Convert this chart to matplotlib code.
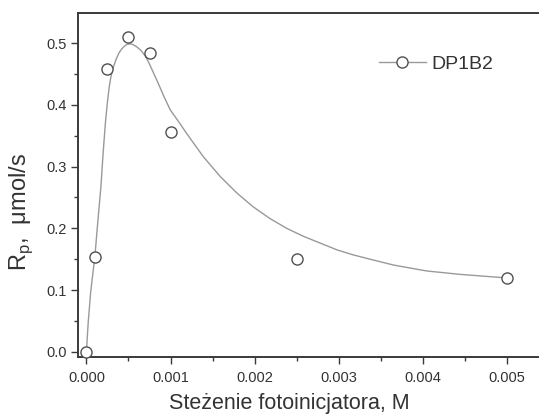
import matplotlib
matplotlib.use("Agg")
import matplotlib.pyplot as plt
from matplotlib.ticker import MultipleLocator
from matplotlib.lines import Line2D

plt.rcParams['font.family'] = ['Liberation Sans', 'DejaVu Sans']

# measured points
conc = [0.0, 0.0001, 0.00025, 0.0005, 0.00075, 0.001, 0.0025, 0.005]
rate = [0.0, 0.154, 0.459, 0.510, 0.484, 0.356, 0.150, 0.120]

# fitted curve
fit_x = [0.0, 0.00002, 0.00005, 0.0001, 0.00014, 0.000172, 0.0002, 0.000227,
         0.00025, 0.00027, 0.00029, 0.00031, 0.00035, 0.000386, 0.00042,
         0.00045, 0.00048, 0.000516, 0.00055, 0.0006, 0.00065, 0.000695,
         0.00074, 0.00078, 0.00085, 0.00092, 0.000996, 0.0011, 0.00119,
         0.0013, 0.00139, 0.00159, 0.00179, 0.00198, 0.00218, 0.00238,
         0.00258, 0.00278, 0.00298, 0.00317, 0.00337, 0.00365, 0.00404,
         0.00444, 0.00491, 0.005]
fit_y = [0.0, 0.045, 0.096, 0.154, 0.218, 0.267, 0.325, 0.373,
         0.405, 0.428, 0.445, 0.457, 0.473, 0.484, 0.491,
         0.495, 0.498, 0.499, 0.498, 0.494, 0.488, 0.480,
         0.469, 0.457, 0.436, 0.414, 0.392, 0.372, 0.354,
         0.333, 0.316, 0.284, 0.257, 0.235, 0.216, 0.200,
         0.187, 0.176, 0.165, 0.157, 0.150, 0.1405, 0.131,
         0.1254, 0.1205, 0.120]

series_label = "DP1B2"
xlabel = "Steżenie fotoinicjatora, M"
ylabel = r"R$_\mathregular{p}$,  μmol/s"

txt = '#333333'
spine_c = '#3a3a3a'

W, H = 539, 416
ax_l, ax_r, ax_t, ax_b = 78, 549.3, 13.3, 356.7

fig = plt.figure(figsize=(W/100, H/100), dpi=100)
ax = fig.add_axes([ax_l/W, 1-ax_b/H, (ax_r-ax_l)/W, (ax_b-ax_t)/H])

ax.plot(fit_x, fit_y, color='#999999', lw=1.0, zorder=2)
ax.plot(conc, rate, ls='none', marker='o', ms=8, mfc='white', mec='#505050',
        mew=1.0, zorder=3, clip_on=False)

ax.set_xlim(-0.0001, 0.0055)
ax.set_ylim(-0.008, 0.5485)

ax.xaxis.set_minor_locator(MultipleLocator(0.0005))
ax.yaxis.set_minor_locator(MultipleLocator(0.05))
ax.set_xticks([0, 0.001, 0.002, 0.003, 0.004, 0.005])
ax.set_xticklabels(['0.000', '0.001', '0.002', '0.003', '0.004', '0.005'])
ax.set_yticks([0.0, 0.1, 0.2, 0.3, 0.4, 0.5])
ax.set_yticklabels(['0.0', '0.1', '0.2', '0.3', '0.4', '0.5'])

ax.tick_params(which='major', direction='out', length=5, width=1.0, color=spine_c,
               labelsize=10.5, labelcolor=txt)
ax.tick_params(axis='x', which='major', pad=5)
ax.tick_params(axis='y', which='major', pad=3)
ax.tick_params(which='minor', direction='out', length=3, width=1.0, color=spine_c)
ax.tick_params(top=False, right=False, which='both')

for s in ['left', 'bottom', 'top']:
    ax.spines[s].set_color(spine_c)
    ax.spines[s].set_linewidth(1.4)
ax.spines['right'].set_visible(False)

ax.set_xlabel(xlabel, fontsize=15.5, color=txt)
ax.set_ylabel(ylabel, fontsize=17, color=txt)
# label positions measured in pixels
ax.xaxis.set_label_coords((289-ax_l)/(ax_r-ax_l), -(409.5-ax_b)/(ax_b-ax_t))
ax.yaxis.set_label_coords(-(ax_l-7)/(ax_r-ax_l), (ax_b-212)/(ax_b-ax_t))
ax.xaxis.label.set_va('baseline')
ax.yaxis.label.set_va('top')

handle = Line2D([], [], color='#999999', lw=1.0, marker='o', ms=8, mfc='white',
                mec='#505050', mew=1.0)
leg = ax.legend([handle], [series_label], loc='upper left',
                bbox_to_anchor=((379-ax_l)/(ax_r-ax_l), 1-(55-ax_t)/(ax_b-ax_t)),
                frameon=False, fontsize=14, handlelength=2.4, handletextpad=0.3,
                borderaxespad=0, borderpad=0)
for t in leg.get_texts():
    t.set_color(txt)

fig.savefig('out.png', dpi=100)
